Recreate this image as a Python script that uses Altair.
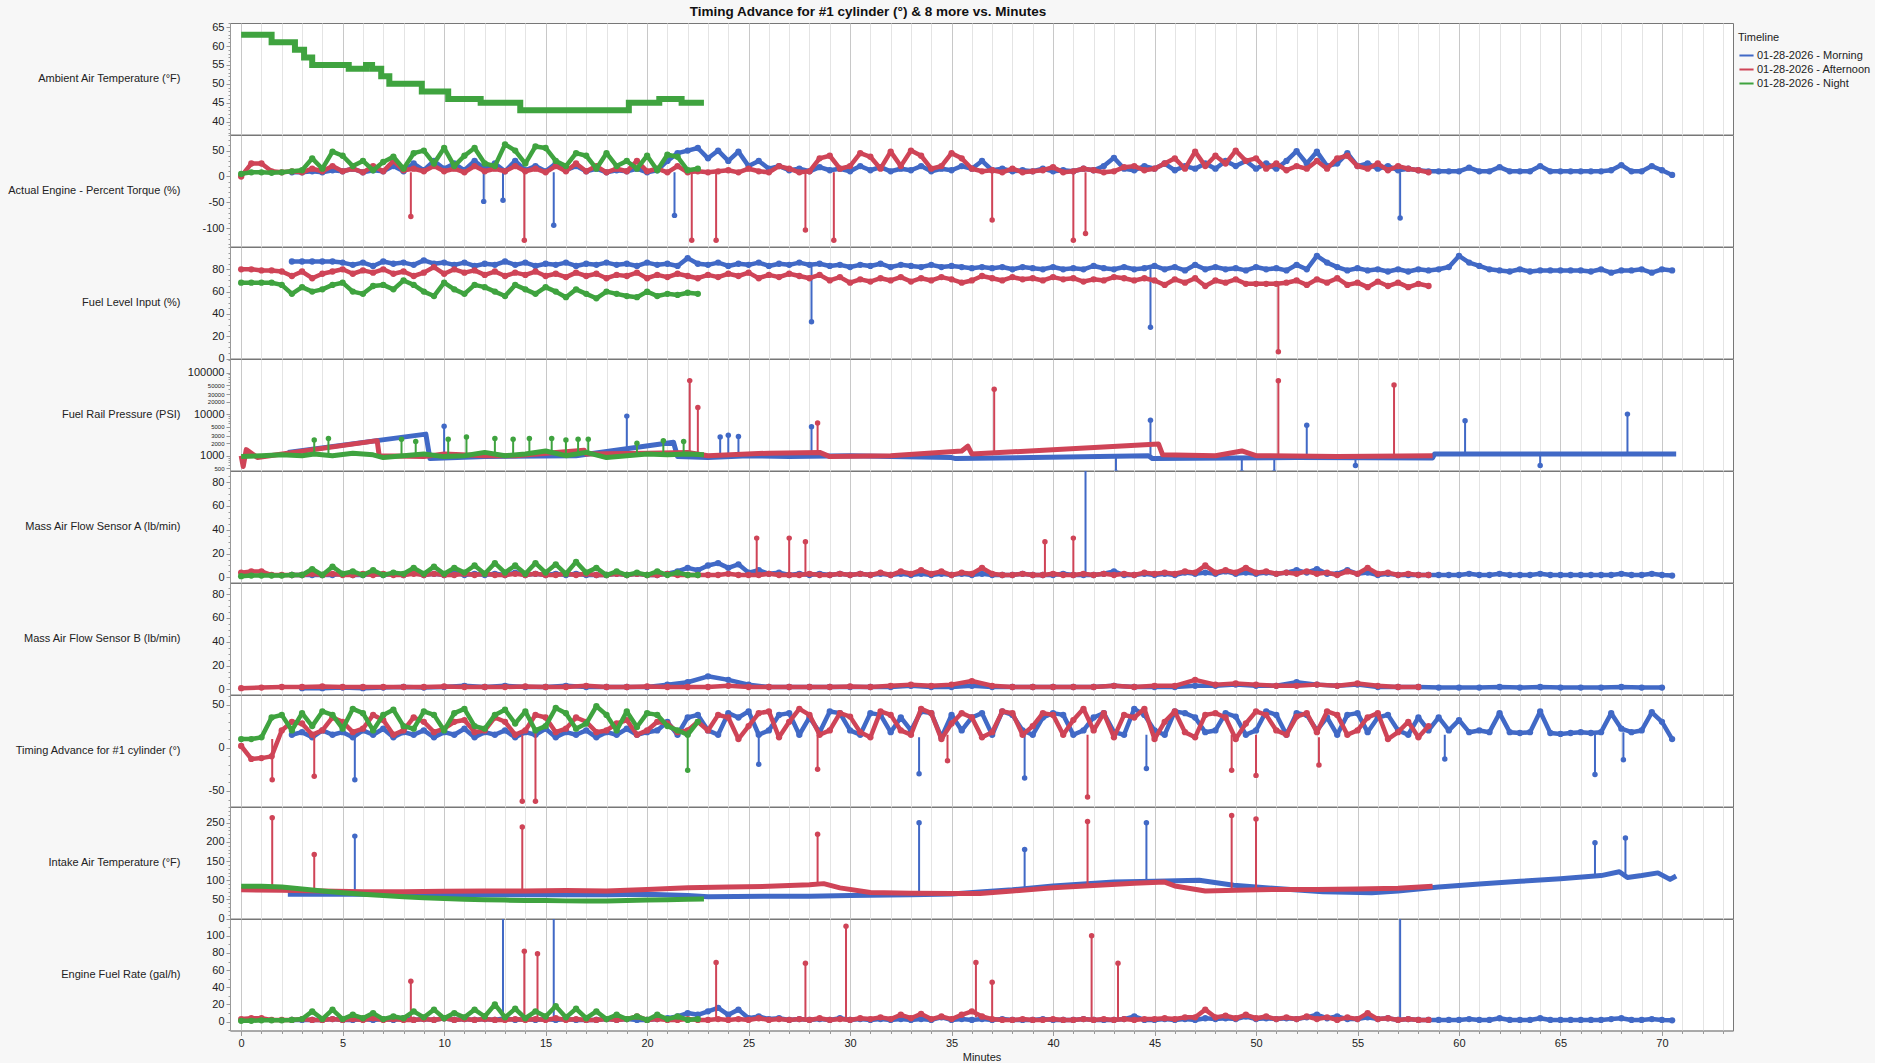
import altair as alt
import pandas as pd

TITLE = "Timing Advance for #1 cylinder (°) & 8 more vs. Minutes"
TIMELINES = ["01-28-2026 - Morning", "01-28-2026 - Afternoon", "01-28-2026 - Night"]
COLORS = ["#4169C6", "#CF4457", "#3FA33F"]
M, A, N = TIMELINES

# grid starts / step (minutes) for regularly sampled series
N_START, A_START, M_START, FINE = 0.0, 0.0, 2.5, 0.5

# ---------------- Ambient Air Temperature (Night only, stepwise)
AMB_N_T = [0, 1.5, 2.65, 3.1, 3.5, 5.3, 6.15, 6.45, 6.9, 7.3, 8.9, 10.2, 11.8, 13.75, 19.1, 20.6, 21.7, 22.8]
AMB_N_V = [63, 61, 59, 57, 55, 54, 55, 54, 52, 50, 48, 46, 45, 43, 45, 46, 45, 45]

# ---------------- Actual Engine - Percent Torque
TRQ_N = [5,8,8,7,8,10,12,35,15,48, 40,20,30,12,28,38,15,45,50,25, 55,20,40,55,25,20,62,50,25,58,
         55,30,20,45,40,15,45,20,30,15, 40,12,42,38,12,15]
TRQ_A = [0,25,25,10,
         8,10,8,15,10,20,10,15,8,20, 10,30,12,15,10,20,10,15,8,20, 10,15,10,20,10,15,8,20,10,25,
         10,20,8,15,10,30,10,15,8,20, 8,10,
         8,10,12,8,15,10,8,20,15,8, 10,35,40,15,20,45,38,15,48,20, 50,40,15,20,45,35,15,10,12,8,
         15,8,10,12,18,8,10,15,12,8, 10,18,20,12,15,25,35,15,48,20, 40,25,50,30,35,15,25,12,20,15,
         30,15,35,40,20,15,25,12,20,15, 12,8]
TRQ_M = [8,8,10,8,12,10,15,8,12,10, 20,10,25,12,30,15,25,12,30,15, 25,10,30,12,20,10,25,12,20,10,
         15,8,12,10,15,8,12,
         30,45,50,55,35,50,30,48,20,30, 15,20,12,15,10,18,12,15,10,20, 12,18,10,15,12,20,10,15,12,20,
         15,30,12,15,10,12,10,15,10,12, 10,15,12,20,36,15,12,20,15,25, 12,20,15,25,15,30,20,30,15,25,
         15,30,49,25,48,20,25,45,20,25, 15,20,12,15,12,10,
         10,10,10,17,10,10,18,10,10,10,20,10,10,10,10,10,10,12,22,10,10,20,12,3]
TRQ_SPIKES = [(A, 8.36, 8, -77), (M, 11.95, 8, -48), (M, 12.9, 8, -46), (A, 13.95, 8, -123),
              (M, 15.4, 8, -94), (M, 21.35, 8, -75), (A, 22.2, 8, -123), (A, 23.4, 8, -123),
              (A, 27.8, 8, -103), (A, 29.2, 8, -123), (A, 37.0, 8, -84), (A, 41.0, 8, -123),
              (A, 41.6, 8, -110), (M, 57.1, 8, -80)]

# ---------------- Fuel Level Input
FL_N = [68,68,68,68,66,58,64,60,62,66, 68,60,58,65,66,62,70,66,60,56, 68,62,58,66,64,60,56,66,62,58,
        64,60,55,62,58,54,60,58,56,55, 60,56,58,57,59,58]
FL_A = [80,80,79,79,78,74,78,72,76,78, 80,76,79,77,80,76,78,74,77,82, 76,80,77,79,75,78,74,77,75,78,
        74,76,73,77,74,76,72,75,74,77, 72,75,73,76,74,72,
        75,73,76,74,77,72,75,73,76,74, 72,75,70,73,68,71,69,72,70,73, 69,72,70,73,71,68,70,74,72,70,
        73,71,72,70,73,71,72,69,71,70, 73,72,70,72,70,66,71,68,72,65, 70,68,71,67,67,67,67,68,70,66,
        71,68,72,66,68,64,69,65,68,64, 67,65]
FL_M = [87,87,87,87,87,86,84,86,83,87, 85,86,84,88,85,86,84,86,83,85, 84,87,84,86,83,85,84,86,83,85,
        84,86,84,85,83,86,84,
        85,83,90,85,84,86,83,85,84,86, 83,85,84,86,84,85,83,84,82,84, 83,85,82,84,83,82,84,82,83,82,
        81,82,81,82,80,82,81,80,82,80, 81,80,83,81,80,82,80,81,83,80, 82,79,84,80,82,80,81,79,82,80,
        81,79,84,80,92,86,82,79,81,79, 80,78,80,78,80,79,
        80,82,92,86,83,80,79,78,80,78,79,79,79,79,79,78,80,77,79,79,80,77,80,79]
FL_SPIKES = [(M, 28.1, 84, 33), (M, 44.8, 81, 28), (A, 51.1, 67, 6)]

# ---------------- Fuel Rail Pressure (log)
FRP_N_T = [0,1,2,3,3.6,4.5,5.5,6.5,7,8,9,10,11,12,13,14,15,16,17,18,19,20,21,22,22.8]
FRP_N_V = [950,1000,1050,1000,1100,1000,1150,1050,900,1000,1100,950,1000,1200,1000,1100,1300,1000,
           1200,900,1000,1100,1050,1100,1050]
FRP_A_T = [0,0.1,0.25,0.8,6.7,6.8,9,10,12,13.5,16.9,17,20,22,23,26,28.5,29,32,35.5,35.8,36,45.2,45.4,
           48,49.3,50,54,58.7]
FRP_A_V = [1000,550,1400,900,2300,1000,950,1100,1000,1000,1350,1100,1150,1200,1000,1150,1200,950,1000,
           1300,1700,1100,1900,1050,1000,1300,1000,950,1000]
FRP_M_T = [2.3,9.1,9.3,12,16.5,21.3,21.5,23,25,27,30,32,35,35.2,44.7,44.9,52,58.7,58.8,70.7]
FRP_M_V = [1200,3300,850,950,1000,2100,950,900,1000,950,1000,950,900,850,1000,850,900,880,1100,1100]
FRP_SPIKES = [(N, 3.6, 1100, 2400), (N, 4.3, 1050, 2600), (N, 7.9, 1000, 2500), (N, 8.6, 1050, 2200),
              (N, 10.2, 1000, 2500), (N, 11.1, 1000, 2800), (N, 12.5, 1100, 2600), (N, 13.4, 1000, 2500),
              (N, 14.2, 1050, 2600), (N, 15.3, 1250, 2600), (N, 16.0, 1000, 2400), (N, 16.6, 1100, 2500),
              (N, 17.1, 1200, 2500), (N, 19.5, 1050, 2000), (N, 20.8, 1050, 2300), (N, 21.8, 1100, 2200),
              (A, 22.1, 1200, 64000), (A, 22.5, 1150, 14500), (A, 28.4, 1200, 6100), (A, 37.1, 1200, 39500),
              (A, 51.1, 1000, 63700), (A, 56.8, 970, 50500),
              (M, 10.0, 900, 5100), (M, 19.0, 1400, 8950), (M, 23.6, 900, 2800), (M, 24.0, 950, 3100),
              (M, 24.5, 1000, 2900), (M, 28.1, 950, 5000), (M, 44.8, 1000, 7170), (M, 52.5, 900, 5400),
              (M, 60.3, 1100, 6900), (M, 68.3, 1100, 10000), (M, 43.1, 950, 400), (M, 49.3, 900, 400),
              (M, 50.9, 900, 400), (M, 54.9, 900, 580), (M, 64.0, 1100, 580)]

# ---------------- Mass Air Flow Sensor A
MAFA_N = [1,1.5,1.5,1.5,1.5,2,2,7,2,9, 3,5,2,6,2,4,3,8,3,9, 3,8,4,10,3,12,4,10,3,12,
          4,11,3,13,4,8,2,5,2,4, 2,5,2,4,2,2]
MAFA_A = [4,5,5,2,
          2,2,2,3,2,3,2,2,3,2, 3,2,2,3,2,3,2,2,3,2, 3,2,2,3,2,3,2,2,3,2, 3,2,2,3,2,3,2,2,3,2, 2,2,
          2,2,3,2,2,2,3,2,2,2, 3,2,2,3,2,3,2,4,2,5, 3,6,3,5,2,4,3,8,3,2, 2,3,2,2,3,2,2,3,2,3,
          2,3,2,4,3,4,3,5,4,10, 4,6,4,8,4,5,3,4,3,5, 3,4,2,5,3,8,3,4,2,3, 2,2]
MAFA_M = [2,2,2,2,2,3,2,2,3,2, 3,2,4,2,3,2,4,2,3,2, 3,2,4,2,3,2,3,2,3,2, 2,2,3,2,3,2,2,
          3,5,8,6,10,12,8,11,4,6, 3,4,2,3,2,3,2,3,2,3, 2,3,2,3,2,3,2,3,2,3, 2,3,2,2,2,3,2,2,2,3,
          2,2,2,3,5,2,2,3,2,3, 2,4,3,4,3,5,3,4,3,4, 3,4,6,4,7,3,3,6,3,4, 2,3,2,2,2,2,
          2,2,2,3,2,2,3,2,2,2,3,2,2,2,2,2,2,2,3,2,2,3,2,1.5]
MAFA_SPIKES = [(A, 25.4, 2, 33), (A, 27.0, 2, 33), (A, 27.8, 2, 30), (A, 39.6, 2, 30), (A, 41.0, 2, 33),
               (M, 41.6, 2, 100)]

# ---------------- Mass Air Flow Sensor B (1-minute samples)
MAFB_A = [1,1.5,2,2,2.5,2,2,2,2,2, 2.5,2,2,2,2.5,2,2,3,2,2, 2.5,2,2,2,3,2,2,2,2,2,
          2.5,2,3,4,3,4,7,3,2,2, 2,2,2,3,2,3,3,8,4,5, 4,3,3,4,3,5,3,2,2]
MAFB_M = [1,1,1.5,1,1.5,2,1.5,2,3,2, 3,2,2,3,2,2,2,2,4,6, 11,8,4,2,2,2,2,2,2,2,
          3,2,2,3,2,2,2,2,2,2, 3,2,2,2,3,3,4,3,3,6, 4,3,4,2,2,2,1.5,1.5,1.5,2, 1.5,2,1.5,1.5,1.5,2,1.5,1.5]

# ---------------- Timing Advance for #1 cylinder
TA_N = [10,10,12,35,38,20,40,25,42,38, 22,45,40,20,38,44,25,22,42,38, 20,40,45,25,22,38,44,28,42,20,
        25,46,40,22,28,48,38,20,42,24, 40,38,25,20,15,30]
TA_A = [2,-13,-12,-10,20,30,28,15,20,35, 30,18,22,38,32,15,20,35,30,18, 22,30,32,18,20,35,30,15,20,38,
        35,18,22,35,30,18,20,28,32,15, 20,30,28,18,20,30,
        20,38,35,10,25,40,42,12,30,45, 38,15,20,40,36,18,12,42,38,20, 15,45,40,10,28,40,35,12,18,42,
        40,15,25,40,38,15,32,45,20,40, 12,38,35,45,10,30,42,18,12,38, 40,35,10,28,42,38,20,15,36,40,
        18,42,38,15,20,35,40,10,18,30, 12,25]
TA_M = [15,18,12,20,15,18,12,20,15,22, 12,18,15,20,12,18,15,22,12,18, 15,20,12,18,15,22,12,18,15,20,
        12,18,15,22,15,18,20,
        30,15,35,38,20,15,40,35,42,15, 20,38,40,15,35,18,42,40,20,15, 40,38,18,35,20,42,40,12,38,20,
        35,40,15,42,38,20,15,35,40,38, 15,20,35,40,18,15,45,38,20,15, 42,40,35,18,20,40,36,15,20,42,
        38,15,40,38,20,35,15,38,40,18, 35,38,20,15,35,20,
        35,20,32,18,20,18,40,18,17,18,42,17,16,17,18,17,18,40,22,18,20,41,30,10]
TA_SPIKES = [(A, 1.53, 10, -37), (A, 3.6, 15, -33), (M, 5.6, 15, -37), (A, 13.85, 15, -62),
             (A, 14.5, 20, -62), (N, 22.0, 20, -26), (M, 25.5, 15, -19), (A, 28.4, 15, -25),
             (M, 33.4, 12, -30), (A, 34.8, 15, -15), (M, 38.6, 15, -35), (M, 44.6, 15, -24),
             (A, 41.7, 15, -57), (A, 48.8, 15, -26), (A, 50.0, 15, -32), (A, 53.1, 12, -20),
             (M, 59.3, 15, -13), (M, 66.7, 17, -31), (M, 68.1, 18, -14)]

# ---------------- Intake Air Temperature
IAT_N_T = [0,1,2,3,4,5,6,7,8,9,10,11,12,13,14,15,16,17,18,19,20,21,22,22.8]
IAT_N_V = [84,84,82,77,72,67,63,60,57,54,52,50,49,48,47,47,46,46,46,47,48,49,50,51]
IAT_A_T = [0,2,4,6,8,10,12,14,16,18,20,22,24,26,28,28.7,29.5,31,33,35,36.4,38,40,42,44,45.5,46,47.5,
           49,51,53,55,57,58.7]
IAT_A_V = [75,74,72,70,70,71,72,72,73,72,76,80,82,84,88,91,80,68,66,65,65,72,80,86,92,95,85,72,
           74,76,76,77,79,84]
IAT_M_T = [2.3,4,6,8,10,12,14,16,18,20,22,23,26,28,30,33,35,36.4,38,40,43,45,47.2,48.9,51,53.3,55.7,
           57,59,61,63,65,67,67.9,68.3,69,69.8,70.4,70.7]
IAT_M_V = [63,63,63,62,62,62,62,62,62,63,60,57,58,58,60,62,64,69,75,85,95,97,100,87,78,70,67,
           72,82,90,97,104,112,122,107,112,119,102,111]
IAT_SPIKES = [(A, 1.53, 74, 263), (A, 3.6, 72, 167), (M, 5.6, 63, 215), (A, 13.85, 72, 239),
              (A, 28.4, 89, 220), (M, 33.4, 62, 250), (M, 38.6, 75, 180), (A, 41.7, 84, 253),
              (M, 44.6, 96, 250), (A, 48.8, 74, 269), (A, 50.0, 75, 260), (M, 66.7, 115, 198),
              (M, 68.2, 110, 210)]

# ---------------- Engine Fuel Rate
EFR_N = [1,1,1.5,1.5,1.5,2,3,12,3,14, 3,8,4,10,3,6,4,12,5,14, 4,10,5,14,6,20,5,15,4,12,
         6,18,5,15,4,12,3,8,3,6, 2,8,3,6,2,3]
EFR_A = [3,4,4,2,
         2,2,3,2,2,3,2,3,2,4, 2,3,2,2,3,2,4,2,3,2, 3,2,2,3,2,3,2,4,2,3, 2,2,3,2,3,6,2,3,2,2, 3,2,
         2,3,2,3,2,4,2,3,2,3, 2,4,2,3,2,4,3,5,3,8, 4,9,3,6,3,8,12,6,3,2, 2,3,2,2,3,2,2,3,2,3,
         2,3,2,3,3,4,3,5,5,14, 5,7,4,8,4,6,3,5,3,6, 3,5,2,5,3,10,3,4,2,3, 2,2]
EFR_M = [2,2,2,2,3,2,2,3,2,3, 2,4,2,3,2,4,2,3,2,3, 2,4,2,3,2,3,2,3,2,2, 2,3,2,3,2,2,3,
         4,6,10,8,12,16,8,14,4,6, 3,4,2,3,2,3,2,4,2,3, 2,3,2,3,2,3,2,5,2,3, 2,3,2,3,2,2,2,3,2,2,
         2,3,2,2,2,3,6,2,2,3, 2,3,2,4,3,4,3,6,3,4, 3,4,3,5,8,4,6,3,3,5, 3,4,2,3,2,2,
         2,2,2,3,2,2,4,2,2,2,4,2,2,2,2,2,2,3,4,2,2,3,2,1.5]
EFR_SPIKES = [(A, 8.36, 3, 47), (M, 12.9, 3, 130), (A, 13.95, 3, 82), (A, 14.6, 3, 79), (M, 15.4, 3, 130),
              (A, 23.4, 3, 69), (A, 27.8, 3, 68), (A, 29.8, 3, 111), (A, 36.2, 5, 69), (A, 37.0, 3, 46),
              (A, 41.9, 3, 100), (A, 43.2, 3, 68), (M, 57.1, 2, 130)]


def regular(start, step, values):
    return [round(start + step * k, 3) for k in range(len(values))]


def span(lo, hi, step):
    out, v = [], lo
    while v <= hi + 1e-9:
        out.append(round(v, 3))
        v += step
    return out


# title, domain, major ticks, minor ticks, scale type, smooth (no point beads)
PANELS = [
    ("Ambient Air Temperature (°F)", [36.6, 66.1], [40, 45, 50, 55, 60, 65], span(37, 66, 1), "linear", True),
    ("Actual Engine - Percent Torque (%)", [-135, 80], [-100, -50, 0, 50], span(-130, 80, 10), "linear", False),
    ("Fuel Level Input (%)", [0, 100], [0, 20, 40, 60, 80], span(0, 100, 5), "linear", False),
    ("Fuel Rail Pressure (PSI)", [440, 212000],
     [500, 1000, 2000, 3000, 5000, 10000, 20000, 30000, 50000, 100000],
     [600, 700, 800, 900, 4000, 6000, 7000, 8000, 9000, 40000, 60000, 70000, 80000, 90000, 200000], "log", True),
    ("Mass Air Flow Sensor A (lb/min)", [-4.3, 89.4], [0, 20, 40, 60, 80], span(0, 85, 5), "linear", False),
    ("Mass Air Flow Sensor B (lb/min)", [-4.3, 89.4], [0, 20, 40, 60, 80], span(0, 85, 5), "linear", False),
    ("Timing Advance for #1 cylinder (°)", [-68, 61], [-50, 0, 50], span(-60, 60, 10), "linear", False),
    ("Intake Air Temperature (°F)", [0, 291], [0, 50, 100, 150, 200, 250], span(0, 290, 10), "linear", True),
    ("Engine Fuel Rate (gal/h)", [-10.3, 119.5], [0, 20, 40, 60, 80, 100], span(-10, 110, 10), "linear", False),
]

SERIES = {
    (0, N): (AMB_N_T, AMB_N_V),
    (1, M): (regular(M_START, FINE, TRQ_M), TRQ_M),
    (1, A): (regular(A_START, FINE, TRQ_A), TRQ_A),
    (1, N): (regular(N_START, FINE, TRQ_N), TRQ_N),
    (2, M): (regular(M_START, FINE, FL_M), FL_M),
    (2, A): (regular(A_START, FINE, FL_A), FL_A),
    (2, N): (regular(N_START, FINE, FL_N), FL_N),
    (3, M): (FRP_M_T, FRP_M_V),
    (3, A): (FRP_A_T, FRP_A_V),
    (3, N): (FRP_N_T, FRP_N_V),
    (4, M): (regular(M_START, FINE, MAFA_M), MAFA_M),
    (4, A): (regular(A_START, FINE, MAFA_A), MAFA_A),
    (4, N): (regular(N_START, FINE, MAFA_N), MAFA_N),
    (5, M): (regular(3.0, 1.0, MAFB_M), MAFB_M),
    (5, A): (regular(0.0, 1.0, MAFB_A), MAFB_A),
    (6, M): (regular(M_START, FINE, TA_M), TA_M),
    (6, A): (regular(A_START, FINE, TA_A), TA_A),
    (6, N): (regular(N_START, FINE, TA_N), TA_N),
    (7, M): (IAT_M_T, IAT_M_V),
    (7, A): (IAT_A_T, IAT_A_V),
    (7, N): (IAT_N_T, IAT_N_V),
    (8, M): (regular(M_START, FINE, EFR_M), EFR_M),
    (8, A): (regular(A_START, FINE, EFR_A), EFR_A),
    (8, N): (regular(N_START, FINE, EFR_N), EFR_N),
}
SPIKES = {1: TRQ_SPIKES, 2: FL_SPIKES, 3: FRP_SPIKES, 4: MAFA_SPIKES, 6: TA_SPIKES, 7: IAT_SPIKES, 8: EFR_SPIKES}

W, H = 1503, 111.5
X_DOMAIN = [-0.55, 73.5]
X_TICKS = list(range(0, 74))
FONT = "Liberation Sans"
INK = "#222222"
AXIS_GRAY = "#999999"
GRID_COLOR = {"condition": {"test": "datum.value % 5 === 0", "value": "#c8c8c8"}, "value": "#e4e4e4"}

LEGEND = alt.Legend(title="Timeline", orient="none", legendX=1508, legendY=9, symbolType="stroke",
                    symbolStrokeWidth=2, symbolSize=200, labelFontSize=11, titleFontSize=11,
                    titleFontWeight="normal", titleColor=INK, labelColor=INK, rowPadding=0,
                    labelOffset=2, titlePadding=4, padding=0)


def color_enc(with_legend):
    return alt.Color("Timeline:N", scale=alt.Scale(domain=TIMELINES, range=COLORS),
                     legend=LEGEND if with_legend else None)


def x_axis(bottom):
    if not bottom:
        return alt.Axis(values=X_TICKS, grid=True, gridColor=GRID_COLOR, labels=False, ticks=False,
                        domain=False, title=None)
    return alt.Axis(values=X_TICKS, grid=True, gridColor=GRID_COLOR,
                    labelExpr="datum.value % 5 === 0 ? '' + datum.value : ''", labelOverlap=False,
                    labelFlush=False,
                    tickSize={"condition": {"test": "datum.value % 5 === 0", "value": 5}, "value": 3},
                    tickColor=AXIS_GRAY, domainColor=AXIS_GRAY,
                    labelFontSize=11, labelColor=INK, labelPadding=2, title="Minutes",
                    titleFontSize=11, titleFontWeight="normal", titleColor=INK, titlePadding=3)


def y_axis(title, ticks, is_log):
    size = {"condition": {"test": "datum.value === 1000 || datum.value === 10000 || datum.value === 100000",
                          "value": 11}, "value": 6} if is_log else 11
    return alt.Axis(title=title, values=ticks, labelExpr="'' + datum.value", orient="left", titleAngle=0,
                    titleAlign="right", titleBaseline="middle", titleX=-50, titleY=H / 2, titleFontSize=11,
                    titleFontWeight="normal", titleColor=INK, labelFontSize=size, labelColor=INK,
                    grid=False, tickColor=AXIS_GRAY, domainColor=AXIS_GRAY, tickSize=4,
                    labelPadding=2, labelOverlap=False)


def minor_axis(values):
    return alt.Axis(values=values, orient="left", labels=False, title=None, grid=False, domain=False,
                    tickSize=2, tickColor=AXIS_GRAY)


def build_panel(i):
    title, dom, ticks, minor, stype, smooth = PANELS[i]
    bottom = i == len(PANELS) - 1
    xenc = alt.X("Minutes:Q", scale=alt.Scale(domain=X_DOMAIN, nice=False, zero=False), axis=x_axis(bottom))
    yscale = alt.Scale(domain=dom, nice=False, zero=False, type=stype)
    main_axis = y_axis(title, ticks, stype == "log")
    layers = []
    first_data = None

    def next_axis():
        return main_axis if not layers else None

    for tl in TIMELINES:
        if (i, tl) in SERIES:
            t, v = SERIES[(i, tl)]
            d = pd.DataFrame({"Minutes": t, "Value": v, "Timeline": tl})
            if first_data is None:
                first_data = d
            if i == 0:
                mk = alt.Chart(d).mark_line(strokeWidth=6, interpolate="step-after", clip=True)
            elif smooth:
                mk = alt.Chart(d).mark_line(strokeWidth=5, clip=True, strokeJoin="round")
            else:
                mk = alt.Chart(d).mark_line(strokeWidth=4.5, clip=True, strokeJoin="round",
                                            point=alt.OverlayMarkDef(filled=True, size=40, opacity=1, clip=True))
            layers.append(mk.encode(x=xenc, y=alt.Y("Value:Q", scale=yscale, axis=next_axis()),
                                    color=color_enc(i == 0)))
        sp = [s for s in SPIKES.get(i, []) if s[0] == tl]
        if sp:
            sd = pd.DataFrame({"Minutes": [s[1] for s in sp], "Base": [s[2] for s in sp],
                               "Peak": [s[3] for s in sp], "Timeline": tl})
            layers.append(alt.Chart(sd).mark_rule(strokeWidth=2, clip=True).encode(
                x=xenc, y=alt.Y("Base:Q", scale=yscale, axis=next_axis()), y2=alt.Y2("Peak"),
                color=color_enc(False)))
            layers.append(alt.Chart(sd).mark_circle(size=30, opacity=1, clip=True).encode(
                x=xenc, y=alt.Y("Peak:Q", scale=yscale, axis=None), color=color_enc(False)))
    # invisible layer that only carries the minor y ticks
    layers.append(alt.Chart(first_data).mark_point(opacity=0).encode(
        x=xenc, y=alt.Y("Value:Q", scale=yscale, axis=minor_axis(minor))))
    return alt.layer(*layers).resolve_axis(y="independent").properties(width=W, height=H)


chart = alt.vconcat(*[build_panel(i) for i in range(len(PANELS))], spacing=0, bounds="flush").properties(
    title=alt.TitleParams(TITLE, fontSize=13.5, fontWeight="bold", anchor="middle", offset=2, dx=-71,
                          color="#111111"),
    padding={"left": 7, "top": 5, "right": 4, "bottom": 0},
    background="#f7f7f7",
).configure(font=FONT).configure_view(stroke="#777777", strokeWidth=1, fill="white")

chart.save("out.html", embed_options={"renderer": "svg", "actions": False})
